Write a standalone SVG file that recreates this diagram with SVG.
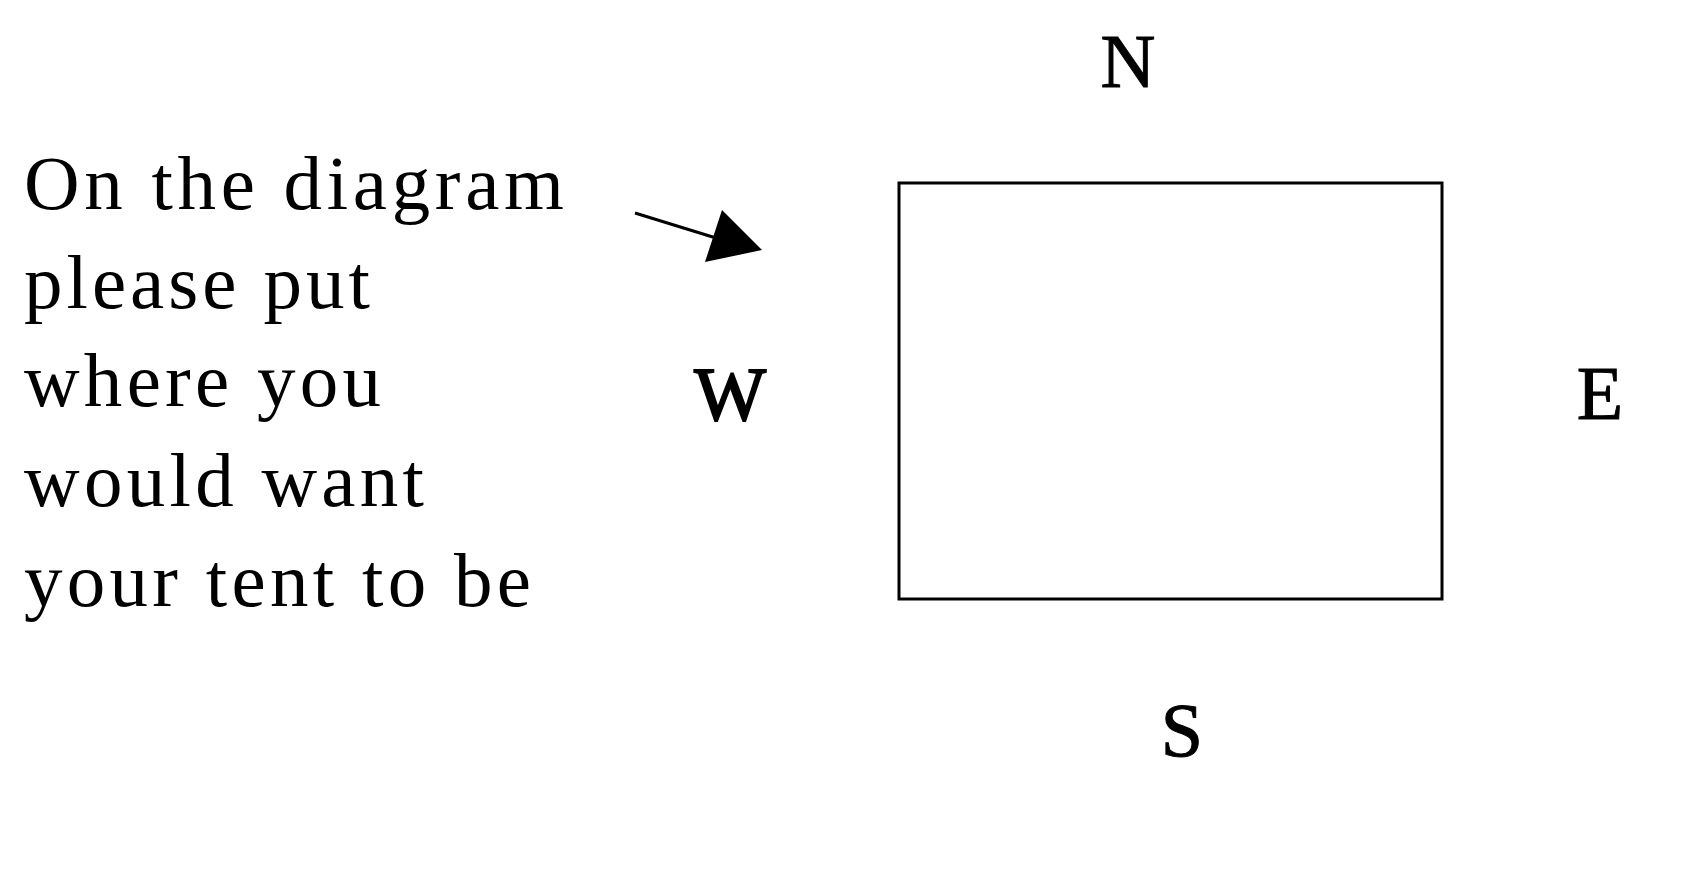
<svg xmlns="http://www.w3.org/2000/svg" width="1706" height="876" viewBox="0 0 1706 876">
<style>
.t{font-family:"Liberation Serif","Times New Roman",serif;font-size:77px;fill:#000}
.c{font-family:"Liberation Serif","Times New Roman",serif;font-size:76px;fill:#000;text-anchor:middle;stroke:#000;stroke-width:1}
.edge{stroke:#000;stroke-width:3;fill:none}
</style>
<rect width="1706" height="876" fill="#fff"/>
<g id="instructions">
<text class="t" x="24" y="209" textLength="540" lengthAdjust="spacing">On the diagram</text>
<text class="t" x="24" y="308" textLength="346" lengthAdjust="spacing">please put</text>
<text class="t" x="24" y="406" textLength="357" lengthAdjust="spacing">where you</text>
<text class="t" x="24" y="506" textLength="400" lengthAdjust="spacing">would want</text>
<text class="t" x="24" y="606" textLength="507" lengthAdjust="spacing">your tent to be</text>
</g>
<g id="site">
<rect x="899" y="183" width="543" height="416" fill="none" stroke="#000" stroke-width="3"/>
</g>
<g id="north"><text class="c" x="1128" y="87">N</text></g>
<g id="west"><text class="c" x="730" y="420" style="stroke-width:2">W</text></g>
<g id="east"><text class="c" x="1600" y="419">E</text></g>
<g id="south"><text class="c" x="1182" y="756">S</text></g>
<g id="connectors">
<line class="edge" x1="635" y1="213" x2="716" y2="238"/>
<polygon points="722,210 705,262 762,250" fill="#000"/>
</g>
</svg>
